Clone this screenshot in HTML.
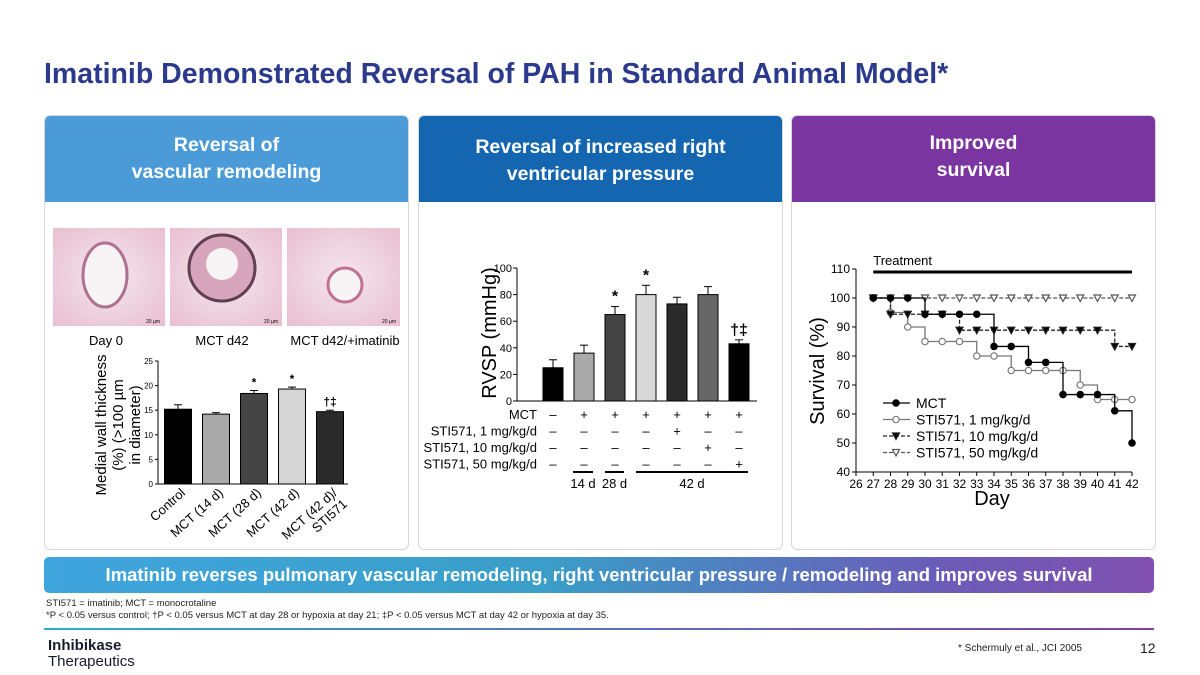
<!DOCTYPE html>
<html><head><meta charset="utf-8">
<style>
body{margin:0;width:1200px;height:675px;background:#fff;font-family:"Liberation Sans",sans-serif;position:relative;overflow:hidden}
.abs{position:absolute}
.panel{position:absolute;top:115px;width:363px;height:433px;border:1px solid #d8d8d8;border-radius:6px;background:#fff;overflow:hidden}
.hdr{height:86px;color:#fff;font-weight:bold;font-size:19.5px;text-align:center;line-height:27px;box-sizing:border-box}
</style></head><body>
<div class="abs" style="left:44px;top:58px;font-size:28.5px;font-weight:bold;color:#2b3a8c">Imatinib Demonstrated Reversal of PAH in Standard Animal Model*</div>

<div class="panel" style="left:44px"><div class="hdr" style="background:#4a9bd8;padding-top:16px">Reversal of<br>vascular remodeling</div></div>
<div class="panel" style="left:418px"><div class="hdr" style="background:#1566b0;padding-top:18px">Reversal of increased right<br>ventricular pressure</div></div>
<div class="panel" style="left:791px"><div class="hdr" style="background:#7b35a0;padding-top:14px">Improved<br>survival</div></div>

<div class="abs" style="left:44px;top:557px;width:1110px;height:36px;border-radius:5px;background:linear-gradient(90deg,#3fa5dd,#3a9ec8 45%,#6a5db8 80%,#8150b0);color:#fff;font-weight:bold;font-size:18.5px;line-height:36px;text-align:center">Imatinib reverses pulmonary vascular remodeling, right ventricular pressure / remodeling and improves survival</div>
<div class="abs" style="left:46px;top:598px;font-size:9.5px;color:#222">STI571 = imatinib; MCT = monocrotaline</div>
<div class="abs" style="left:46px;top:610px;font-size:9.5px;color:#222">*P &lt; 0.05 versus control; †P &lt; 0.05 versus MCT at day 28 or hypoxia at day 21; ‡P &lt; 0.05 versus MCT at day 42 or hypoxia at day 35.</div>
<div class="abs" style="left:44px;top:628px;width:1110px;height:2px;background:linear-gradient(90deg,#2bb0c8,#5a6fc0,#8040a8)"></div>
<div class="abs" style="left:48px;top:638px;font-size:15px;line-height:16px;color:#1a1a2e;font-weight:bold">Inhibikase<br><span style="font-weight:normal">Therapeutics</span></div>
<div class="abs" style="left:958px;top:643px;font-size:10px;color:#222">* Schermuly et al., JCI 2005</div>
<div class="abs" style="left:1140px;top:640px;font-size:14px;color:#222">12</div>

<svg class="abs" style="left:0;top:0" width="1200" height="675" id="svg" font-family="Liberation Sans, sans-serif">
<defs>
<radialGradient id="tis" cx="50%" cy="50%" r="70%"><stop offset="0" stop-color="#f4e6ee"/><stop offset="1" stop-color="#e9bfd0"/></radialGradient>
</defs>
<g><rect x="53" y="228" width="112" height="98" fill="url(#tis)"/><ellipse cx="105" cy="275" rx="22" ry="32" fill="#f8f4f6" stroke="#b07090" stroke-width="3"/><text x="160" y="323" font-size="5" text-anchor="end">20 µm</text></g>
<g><rect x="170" y="228" width="112" height="98" fill="url(#tis)"/><circle cx="222" cy="268" r="33" fill="#d8a6bc" stroke="#604050" stroke-width="3"/><circle cx="222" cy="264" r="16" fill="#f8f4f6"/><text x="278" y="323" font-size="5" text-anchor="end">20 µm</text></g>
<g><rect x="287" y="228" width="113" height="98" fill="url(#tis)"/><circle cx="345" cy="285" r="17" fill="#f8f4f6" stroke="#c07090" stroke-width="3"/><text x="396" y="323" font-size="5" text-anchor="end">20 µm</text></g>
<text x="106" y="345" font-size="13" text-anchor="middle">Day 0</text>
<text x="222" y="345" font-size="13" text-anchor="middle">MCT d42</text>
<text x="345" y="345" font-size="13" text-anchor="middle">MCT d42/+imatinib</text>
<g id="c1"></g><g id="c2"></g><g id="c3"></g>
</svg>
<script>
const NS="http://www.w3.org/2000/svg";
function mk(p,t,a,txt){const e=document.createElementNS(NS,t);for(const k in a)e.setAttribute(k,a[k]);if(txt!==undefined)e.textContent=txt;p.appendChild(e);return e;}
// Chart 1: medial wall thickness
const c1Cats=["Control","MCT (14 d)","MCT (28 d)","MCT (42 d)","MCT (42 d)/ STI571"];
const c1Vals=[15.2,14.2,18.4,19.3,14.7];
const c1Err=[0.9,0.3,0.6,0.4,0.3];
const c1Marks=["","","*","*","†‡"];
const c1Ticks=[0,5,10,15,20,25];
const c1Fill=["#000","#aaa","#444","#d6d6d6","#2a2a2a"];
// Chart 2: RVSP
const c2Vals=[25,36,65,80,73,80,43];
const c2Err=[6,6,6,7,5,6,3];
const c2Marks=["","","*","*","","","†‡"];
const c2Ticks=[0,20,40,60,80,100];
const c2Fill=["#000","#aaa","#444","#d8d8d8","#2a2a2a","#666","#000"];
const c2RowLabels=["MCT","STI571, 1 mg/kg/d","STI571, 10 mg/kg/d","STI571, 50 mg/kg/d"];
const c2Signs=["-++++++","----+--","-----+-","------+"];
// Chart 3: survival
const c3Days=[27,28,29,30,31,32,33,34,35,36,37,38,39,40,41,42];
const c3MCT=[100,100,100,94.4,94.4,94.4,94.4,83.3,83.3,77.8,77.8,66.7,66.7,66.7,61.1,50];
const c3S1=[100,95,90,85,85,85,80,80,75,75,75,75,70,65,65,65];
const c3S10=[100,94.4,94.4,94.4,94.4,88.9,88.9,88.9,88.9,88.9,88.9,88.9,88.9,88.9,83.3,83.3];
const c3S50=[100,100,100,100,100,100,100,100,100,100,100,100,100,100,100,100];
const c3YTicks=[40,50,60,70,80,90,100,110];
const c3XTicks=[26,27,28,29,30,31,32,33,34,35,36,37,38,39,40,41,42];

// ---- chart 1
(function(){const g=document.getElementById('c1');
const y=v=>484-v*(123/25), x0=158, bw=27, step=38;
const cx=i=>x0+20+i*step;
mk(g,'line',{x1:x0,y1:y(0),x2:x0,y2:y(25),stroke:'#000'});
mk(g,'line',{x1:x0,y1:y(0),x2:cx(4)+18,y2:y(0),stroke:'#000'});
c1Ticks.forEach(t=>{mk(g,'line',{x1:x0-3,y1:y(t),x2:x0,y2:y(t),stroke:'#000'});const tl=mk(g,'text',{x:x0-5,y:y(t)+3,'font-size':8,'text-anchor':'end'},t);});
c1Vals.forEach((v,i)=>{const b=mk(g,'rect',{x:cx(i)-bw/2,y:y(v),width:bw,height:y(0)-y(v),fill:c1Fill[i],stroke:'#000'});

mk(g,'line',{x1:cx(i),y1:y(v),x2:cx(i),y2:y(v+c1Err[i]),stroke:'#000'});mk(g,'line',{x1:cx(i)-4,y1:y(v+c1Err[i]),x2:cx(i)+4,y2:y(v+c1Err[i]),stroke:'#000'});
if(c1Marks[i])mk(g,'text',{x:cx(i),y:y(v+c1Err[i])-4,'font-size':12,'text-anchor':'middle','font-weight':'bold'},c1Marks[i]);
const parts=c1Cats[i].split('/ ');
const lt=mk(g,'text',{transform:`translate(${cx(i)+8},${y(0)+10}) rotate(-42)`,'font-size':13,'text-anchor':'end'});

parts.forEach((p,k)=>mk(lt,'tspan',{x:0,dy:k?15:0},p+(k<parts.length-1?'/':'')));});
const yt=mk(g,'text',{transform:'translate(106,425) rotate(-90)','font-size':15,'text-anchor':'middle'});

["Medial wall thickness","(%) (>100 µm","in diameter)"].forEach((s,k)=>mk(yt,'tspan',{x:0,dy:k?17:0},s));
})();
// ---- chart 2
(function(){const g=document.getElementById('c2');
const y=v=>401-v*1.33, x0=517, bw=20, cx=i=>553+i*31;
mk(g,'line',{x1:x0,y1:y(0),x2:x0,y2:y(100),stroke:'#000'});
mk(g,'line',{x1:x0,y1:y(0),x2:757,y2:y(0),stroke:'#000'});
c2Ticks.forEach(t=>{mk(g,'line',{x1:x0-4,y1:y(t),x2:x0,y2:y(t),stroke:'#000'});const tl=mk(g,'text',{x:x0-5,y:y(t)+4,'font-size':11,'text-anchor':'end'},t);});
c2Vals.forEach((v,i)=>{const b=mk(g,'rect',{x:cx(i)-bw/2,y:y(v),width:bw,height:y(0)-y(v),fill:c2Fill[i],stroke:'#000'});

mk(g,'line',{x1:cx(i),y1:y(v),x2:cx(i),y2:y(v+c2Err[i]),stroke:'#000'});mk(g,'line',{x1:cx(i)-4,y1:y(v+c2Err[i]),x2:cx(i)+4,y2:y(v+c2Err[i]),stroke:'#000'});
if(c2Marks[i])mk(g,'text',{x:cx(i),y:y(v+c2Err[i])-5,'font-size':16,'text-anchor':'middle','font-weight':'bold'},c2Marks[i]);});
c2RowLabels.forEach((l,r)=>{const ry=419+r*16.5;const t=mk(g,'text',{x:537,y:ry,'font-size':13,'text-anchor':'end'},l);
[...c2Signs[r]].forEach((s,i)=>mk(g,'text',{x:cx(i),y:ry,'font-size':13,'text-anchor':'middle'},s==='+'?'+':'–'));});
[[573,593,'14 d'],[605,624,'28 d'],[636,748,'42 d']].forEach(d=>{mk(g,'line',{x1:d[0],y1:472,x2:d[1],y2:472,stroke:'#000','stroke-width':2});const t=mk(g,'text',{x:(d[0]+d[1])/2,y:488,'font-size':13,'text-anchor':'middle'},d[2]);});
const yt=mk(g,'text',{transform:'translate(498,333) rotate(-90)','font-size':20,'text-anchor':'middle'},'RVSP (mmHg)');
yt.setAttribute('transform','translate(496,333) rotate(-90)');
})();
// ---- chart 3
(function(){const g=document.getElementById('c3');
const x=d=>856+(d-26)*17.25, y=v=>472-(v-40)*2.9;
mk(g,'line',{x1:x(26),y1:y(40),x2:x(26),y2:y(110),stroke:'#000'});
mk(g,'line',{x1:x(26),y1:y(40),x2:x(42),y2:y(40),stroke:'#000'});
c3YTicks.forEach(t=>{mk(g,'line',{x1:x(26)-4,y1:y(t),x2:x(26),y2:y(t),stroke:'#000'});const tl=mk(g,'text',{x:x(26)-6,y:y(t)+4,'font-size':12,'text-anchor':'end'},t);});
c3XTicks.forEach(t=>{mk(g,'line',{x1:x(t),y1:y(40),x2:x(t),y2:y(40)+4,stroke:'#000'});const tl=mk(g,'text',{x:x(t),y:y(40)+16,'font-size':12,'text-anchor':'middle'},t);});
mk(g,'line',{x1:x(27),y1:272,x2:x(42),y2:272,stroke:'#000','stroke-width':3});
mk(g,'text',{x:x(27),y:265,'font-size':13},'Treatment');
const series=[[c3S50,'#555','4,2','tri',false,'STI571, 50 mg/kg/d'],[c3S1,'#777','','circ',false,'STI571, 1 mg/kg/d'],[c3S10,'#222','4,2','tri',true,'STI571, 10 mg/kg/d'],[c3MCT,'#000','','circ',true,'MCT']];
function marker(px,py,type,filled,col){if(type==='circ')return mk(g,'circle',{cx:px,cy:py,r:3.2,fill:filled?'#000':'#fff',stroke:col,'stroke-width':1.2});
return mk(g,'path',{d:`M${px-3.5},${py-3} L${px+3.5},${py-3} L${px},${py+3.5}Z`,fill:filled?'#000':'#fff',stroke:col,'stroke-width':1.2});}
series.forEach(s=>{let d=`M${x(c3Days[0])},${y(s[0][0])}`;for(let i=1;i<c3Days.length;i++)d+=` H${x(c3Days[i])} V${y(s[0][i])}`;
const p=mk(g,'path',{d,fill:'none',stroke:s[1],'stroke-width':1.3,'stroke-dasharray':s[2]});
c3Days.forEach((dd,i)=>marker(x(dd),y(s[0][i]),s[3],s[4],s[1]));});
[series[3],series[1],series[2],series[0]].forEach((s,k)=>{const ly=403+k*16.5;mk(g,'line',{x1:883,y1:ly,x2:910,y2:ly,stroke:s[1],'stroke-width':1.3,'stroke-dasharray':s[2]});marker(896,ly,s[3],s[4],s[1]);
const t=mk(g,'text',{x:916,y:ly+5,'font-size':14},s[5]);});
const yt=mk(g,'text',{transform:'translate(824,371) rotate(-90)','font-size':20,'text-anchor':'middle'},'Survival (%)');
const xt=mk(g,'text',{x:992,y:505,'font-size':20,'text-anchor':'middle'},'Day');
})();
</script>
</body></html>
